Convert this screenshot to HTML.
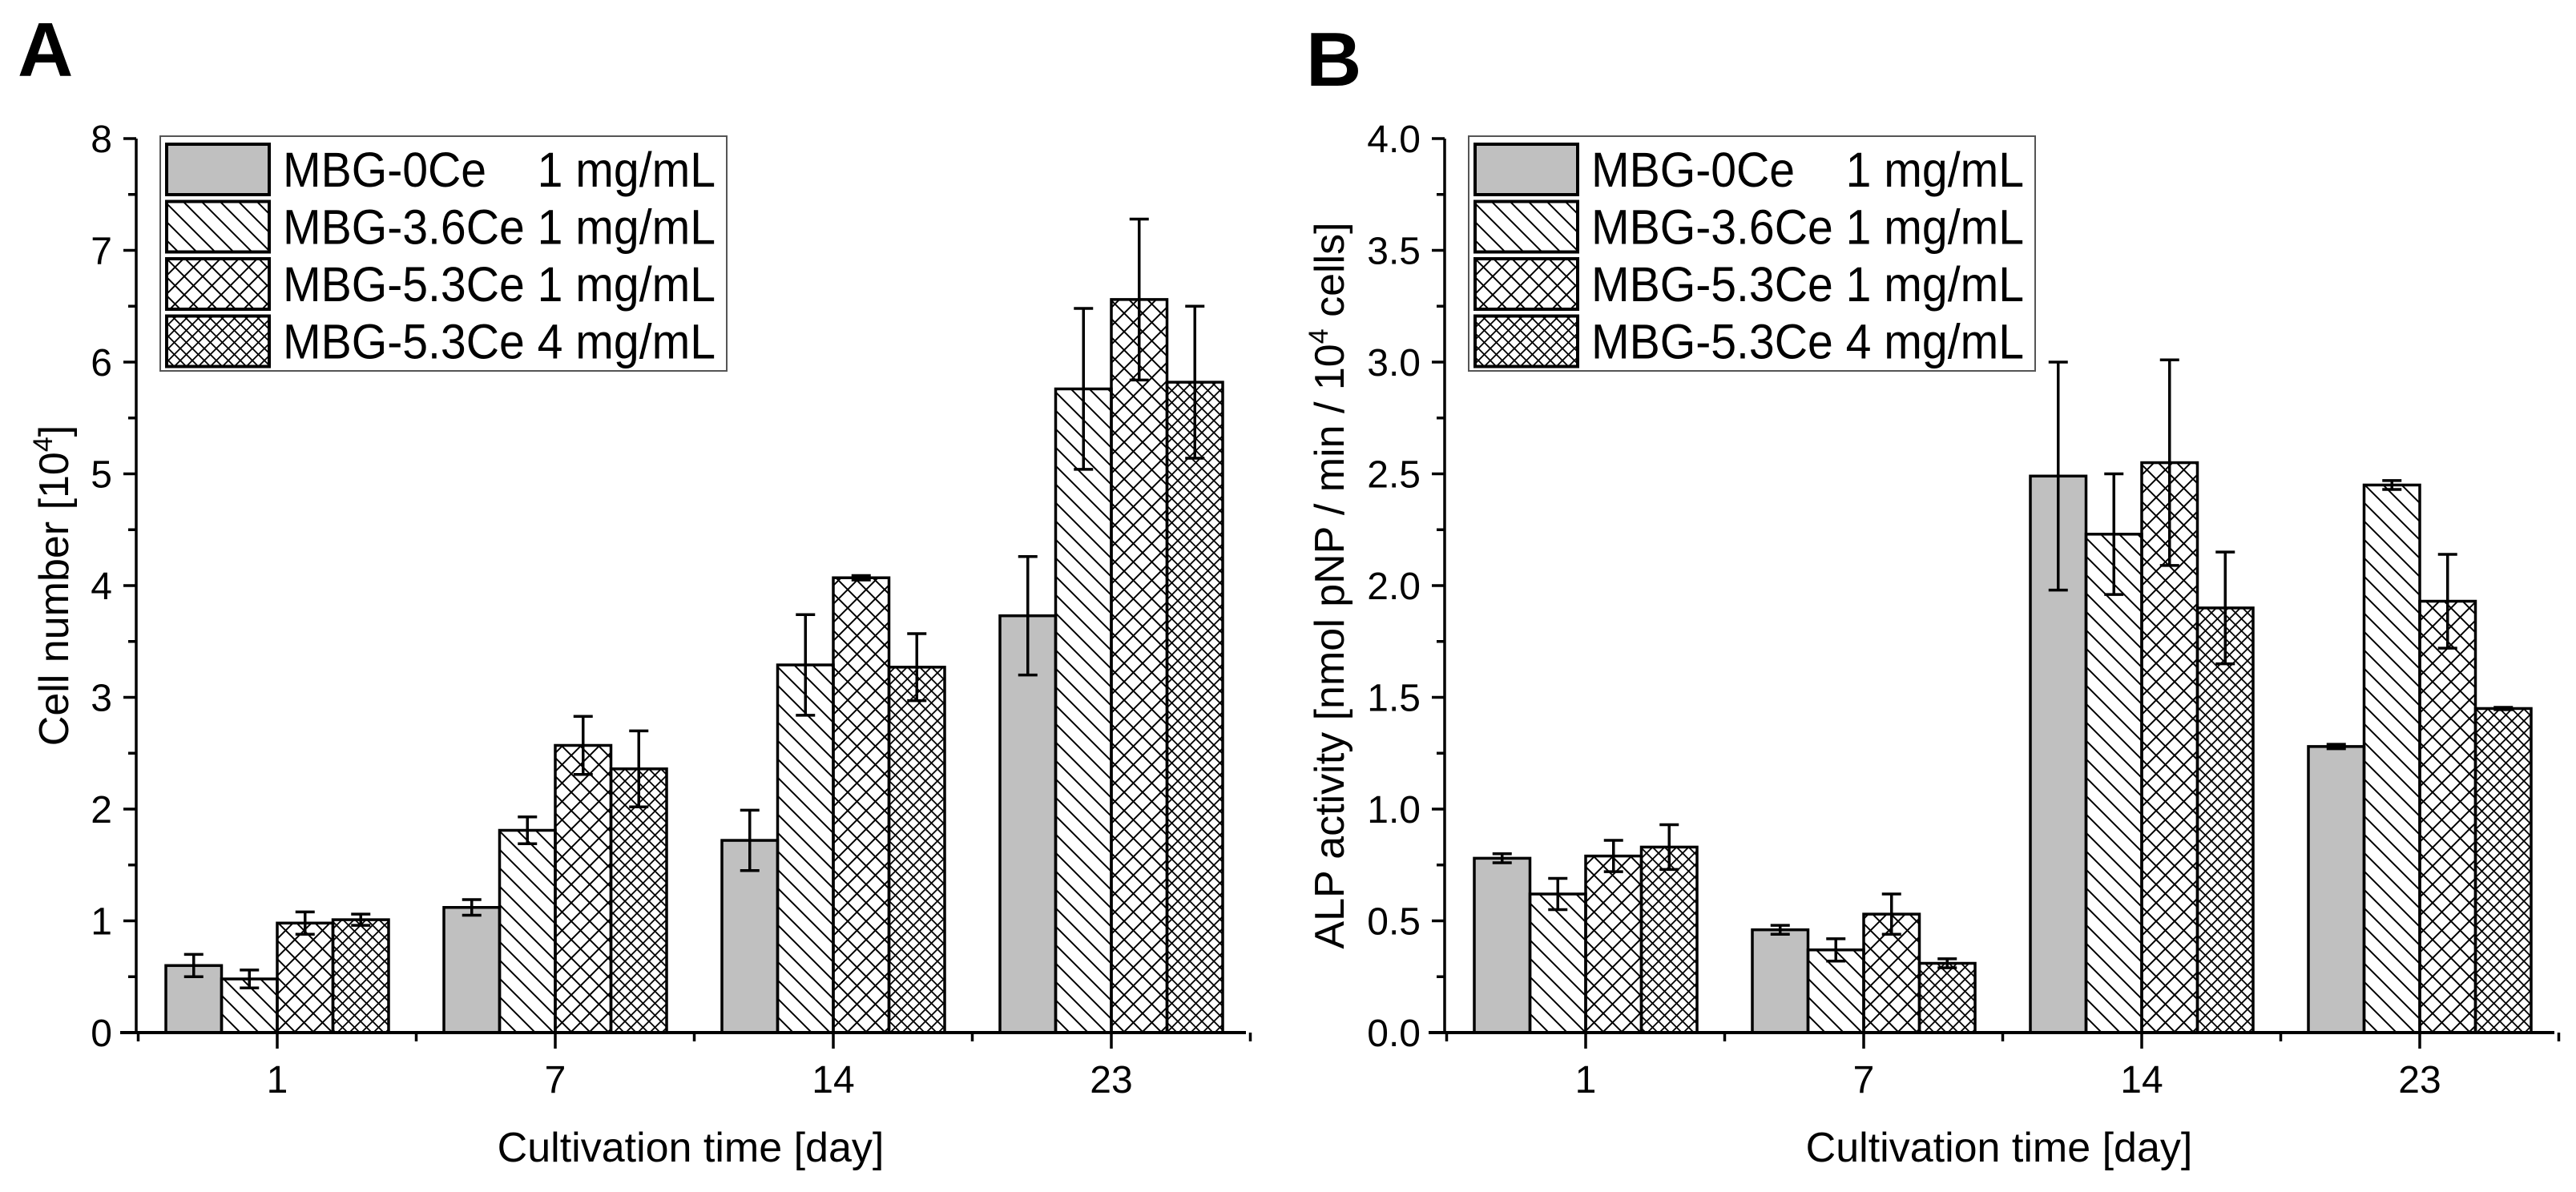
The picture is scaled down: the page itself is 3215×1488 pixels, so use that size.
<!DOCTYPE html>
<html><head><meta charset="utf-8"><style>
html,body{margin:0;padding:0;background:#fff;}
svg{display:block;font-family:"Liberation Sans",Arial,sans-serif;}
</style></head><body>
<svg id="fig" width="3215" height="1488" viewBox="0 0 3215 1488" xmlns="http://www.w3.org/2000/svg">
<defs>
<pattern id="p-diag" patternUnits="userSpaceOnUse" width="23" height="23">
<path d="M-2,-2 L25,25 M-2,21 L2,25 M21,-2 L25,2" stroke="#000" stroke-width="2"/></pattern>
<pattern id="p-cross" patternUnits="userSpaceOnUse" width="23" height="23">
<path d="M-2,-2 L25,25 M-2,21 L2,25 M21,-2 L25,2 M25,-2 L-2,25 M-2,2 L2,-2 M21,25 L25,21" stroke="#000" stroke-width="2"/></pattern>
<pattern id="p-fine" patternUnits="userSpaceOnUse" width="15" height="15">
<path d="M-2,-2 L17,17 M-2,13 L2,17 M13,-2 L17,2 M17,-2 L-2,17 M-2,2 L2,-2 M13,17 L17,13" stroke="#000" stroke-width="1.8"/></pattern>
</defs>
</svg>
<script>
const days = ["1","7","14","23"];
const seriesNames = ["MBG-0Ce\u00A0\u00A0\u00A0 1 mg/mL","MBG-3.6Ce 1 mg/mL","MBG-5.3Ce 1 mg/mL","MBG-5.3Ce 4 mg/mL"];
const cellVals = [[0.60,1.12,1.72,3.73],[0.48,1.81,3.29,5.76],[0.98,2.57,4.07,6.56],[1.01,2.36,3.27,5.82]];
const cellErr  = [[0.10,0.07,0.27,0.53],[0.08,0.12,0.45,0.72],[0.10,0.26,0.02,0.72],[0.05,0.34,0.30,0.68]];
const alpVals  = [[0.78,0.46,2.49,1.28],[0.62,0.37,2.23,2.45],[0.79,0.53,2.55,1.93],[0.83,0.31,1.90,1.45]];
const alpErr   = [[0.02,0.02,0.51,0.01],[0.07,0.05,0.27,0.02],[0.07,0.09,0.46,0.21],[0.10,0.02,0.25,0.005]];
const cellTicks = ["0","1","2","3","4","5","6","7","8"];
const alpTicks = ["0.0","0.5","1.0","1.5","2.0","2.5","3.0","3.5","4.0"];
const fills = ["#c0c0c0","url(#p-diag)","url(#p-cross)","url(#p-fine)"];
const NS="http://www.w3.org/2000/svg";
const svg=document.getElementById('fig');
function el(tag,attrs,parent){const e=document.createElementNS(NS,tag);for(const k in attrs)e.setAttribute(k,attrs[k]);(parent||svg).appendChild(e);return e;}

function panel(cfg){
  const g=el('g',{});
  
  
  const x0=cfg.ax, xEnd=cfg.ax+1385, y0=1289, yTop=173;
  const yMax=cfg.yMax;
  const Y=v=>y0-(v/yMax)*(y0-yTop);
  const X=(i)=>x0+176+i*347;
  const bw=69.5;
  for(let s=0;s<4;s++){for(let d=0;d<4;d++){
    const v=cfg.vals[s][d], e=cfg.err[s][d];
    const bx=X(d)-2*bw+s*bw;
    const r=el('rect',{x:bx,y:Y(v),width:bw,height:y0-Y(v),fill:fills[s],stroke:'#000','stroke-width':3.5},g);
    
    
    const cx=bx+bw/2;
    const eb=el('path',{d:`M${cx},${Y(v+e)} V${Y(v-e)} M${cx-12},${Y(v+e)} H${cx+12} M${cx-12},${Y(v-e)} H${cx+12}`,stroke:'#000','stroke-width':3.5,fill:'none'},g);
    
    
  }}
  const ya=el('path',{d:`M${x0},${yTop} V${y0}`,stroke:'#000','stroke-width':3.5,fill:'none'},g);
  
  
  const xa=el('path',{d:`M${x0-20},${y0} H${xEnd}`,stroke:'#000','stroke-width':4,fill:'none'},g);
  
  
  const step=yMax/(cfg.ticks.length-1);
  cfg.ticks.forEach((t,i)=>{
    const yy=Y(i*step);
    el('path',{d:`M${x0-16},${yy} H${x0}`,stroke:'#000','stroke-width':3.5},g);
    if(i<cfg.ticks.length-1) el('path',{d:`M${x0-10},${Y((i+0.5)*step)} H${x0}`,stroke:'#000','stroke-width':3.5},g);
    const tx=el('text',{x:x0-30,y:yy+17,'text-anchor':'end','font-size':48},g);
    tx.textContent=t;
    
    
  });
  for(let d=0;d<4;d++){
    el('path',{d:`M${X(d)},${y0} V${y0+20}`,stroke:'#000','stroke-width':3.5},g);
    const tx=el('text',{x:X(d),y:y0+75,'text-anchor':'middle','font-size':48},g);
    tx.textContent=days[d];
    
    
  }
  for(let d=0;d<=4;d++) el('path',{d:`M${X(d)-173.5},${y0} V${y0+11}`,stroke:'#000','stroke-width':3.5},g);
  const xt=el('text',{x:x0+692,y:1450,'text-anchor':'middle','font-size':52},g);
  xt.textContent='Cultivation time [day]';
  
  
  const yt=el('text',{transform:`translate(${cfg.ytx},731) rotate(-90)`,'text-anchor':'middle','font-size':52},g);
  yt.innerHTML=cfg.ytitle;
  
  
  const lg=el('g',{},g);
  
  
  const lx=x0+30;
  el('rect',{x:lx,y:170,width:707,height:293,fill:'#fff',stroke:'#555','stroke-width':2},lg);
  for(let s=0;s<4;s++){
    const ry=180+s*71.5;
    const sw=el('rect',{x:lx+8,y:ry,width:128,height:63,fill:fills[s],stroke:'#000','stroke-width':4},lg);
    
    
    const lt=el('text',{x:lx+153,y:ry+53,'font-size':61,textLength:540,lengthAdjust:'spacingAndGlyphs'},lg);
    lt.textContent=seriesNames[s];
    
    
  }
  const L=el('text',{x:cfg.lx,y:cfg.ly,'font-size':96,'font-weight':'bold'},g);
  L.textContent=cfg.letter;
  
  
}
panel({name:'panel-a-cell-number',key:'a',ax:170,yMax:8,vals:cellVals,err:cellErr,ticks:cellTicks,
  ytx:85,ytitle:'Cell number [10<tspan font-size="34" dy="-20">4</tspan><tspan dy="20">]</tspan>',letter:'A',lx:22,ly:95});
panel({name:'panel-b-alp-activity',key:'b',ax:1803,yMax:4,vals:alpVals,err:alpErr,ticks:alpTicks,
  ytx:1677,ytitle:'ALP activity [nmol pNP / min / 10<tspan font-size="34" dy="-20">4</tspan><tspan dy="20"> cells]</tspan>',letter:'B',lx:1630,ly:107});
</script>
</body></html>
